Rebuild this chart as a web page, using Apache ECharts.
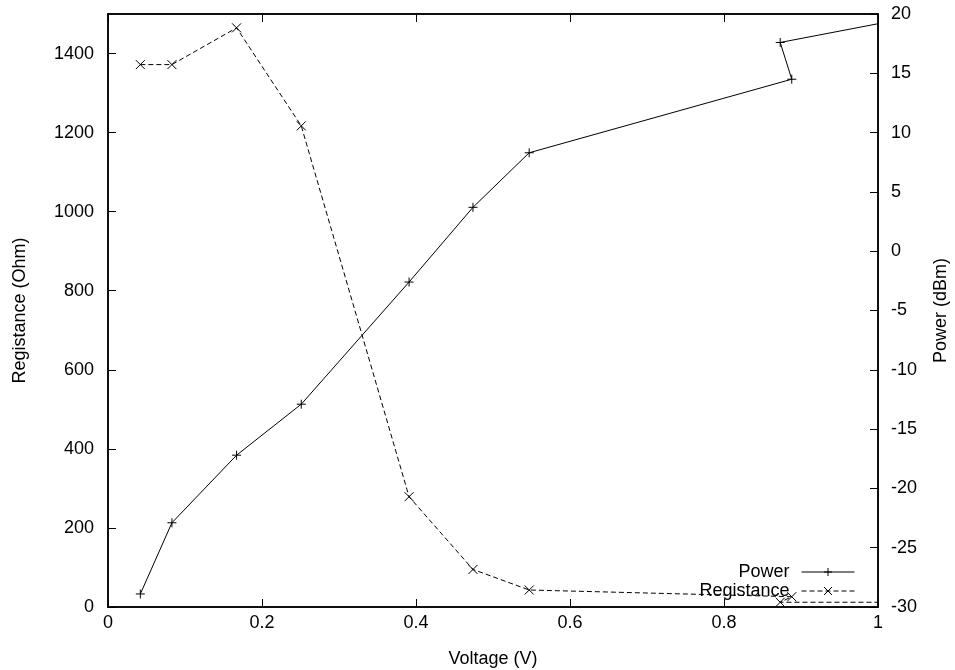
<!DOCTYPE html>
<html>
<head>
<meta charset="utf-8">
<script src="https://cdn.jsdelivr.net/npm/echarts@6/dist/echarts.min.js"></script>
<style>html,body{margin:0;padding:0;background:#fff}#c{width:955px;height:670px}</style>
</head>
<body>
<div id="c"></div>
<script>
// Data (order as plotted)
const voltage = [0.042, 0.083, 0.167, 0.251, 0.391, 0.474, 0.547, 0.888, 0.873, 1.05];
const power = [-28.9, -22.9, -17.2, -12.9, -2.6, 3.7, 8.3, 14.5, 17.6, 19.8];
const registance = [1372, 1372, 1465, 1217, 279, 95, 43, 26, 12, 12];
const seriesNames = ['Power', 'Registance'];
const xTicks = [0, 0.2, 0.4, 0.6, 0.8, 1];

const FONT = 'Liberation Sans, Arial, sans-serif';
const FS = 18;
const plusPath = 'path://M0,5L10,5M5,0L5,10';
const crossPath = 'path://M0,0L10,10M10,0L0,10';

function pairs(xs, ys) { return xs.map((x, i) => [x, ys[i]]); }
function plain(v) { return String(Math.round(v * 1000) / 1000); }

const chart = echarts.init(document.getElementById('c'), null, {renderer: 'canvas'});
const axisLine = {show: true, onZero: false, lineStyle: {color: '#000', width: 1.5}};
const axisTick = {show: true, inside: true, length: 8, lineStyle: {color: '#000', width: 1}};
const labelBase = {color: '#000', fontFamily: FONT, fontSize: FS, formatter: plain};
const nameStyle = {color: '#000', fontFamily: FONT, fontSize: FS};
chart.setOption({
  animation: false,
  backgroundColor: '#fff',
  grid: {left: 108, right: 77, top: 14, bottom: 63, show: true, borderColor: '#000', borderWidth: 1.5,
         backgroundColor: 'transparent', outerBoundsMode: 'none', containLabel: false},
  legend: {
    data: seriesNames,
    orient: 'vertical',
    align: 'right',
    right: 95,
    top: 558,
    itemWidth: 53,
    itemHeight: 10,
    itemGap: 1,
    textStyle: {color: '#000', fontFamily: FONT, fontSize: FS, lineHeight: 17, padding: [0, 7, 0, 0]},
    lineStyle: {width: 1},
    itemStyle: {borderWidth: 1, color: 'transparent', borderColor: '#000'},
    inactiveColor: '#000'
  },
  xAxis: [
    {
      type: 'value', min: xTicks[0], max: xTicks[xTicks.length - 1], interval: 0.2,
      name: 'Voltage (V)', nameLocation: 'middle', nameGap: 43, nameTextStyle: nameStyle,
      axisLine: axisLine, axisTick: axisTick, splitLine: {show: false},
      axisLabel: Object.assign({}, labelBase, {margin: 7})
    },
    {
      type: 'value', position: 'top', min: 0, max: 1, interval: 0.2,
      axisLine: axisLine, axisTick: axisTick, splitLine: {show: false},
      axisLabel: {show: false}
    }
  ],
  yAxis: [
    {
      type: 'value', min: 0, max: 1500, interval: 200, position: 'left',
      name: 'Registance (Ohm)', nameLocation: 'middle', nameGap: 79, nameRotate: 90, nameTextStyle: nameStyle,
      axisLine: axisLine, axisTick: axisTick, splitLine: {show: false},
      axisLabel: Object.assign({}, labelBase, {margin: 14, showMaxLabel: false})
    },
    {
      type: 'value', min: -30, max: 20, interval: 5, position: 'right',
      name: 'Power (dBm)', nameLocation: 'middle', nameGap: 54, nameRotate: 90, nameTextStyle: nameStyle,
      axisLine: axisLine, axisTick: axisTick, splitLine: {show: false},
      axisLabel: Object.assign({}, labelBase, {margin: 13})
    }
  ],
  series: [
    {
      name: seriesNames[0], type: 'line', xAxisIndex: 0, yAxisIndex: 1,
      data: pairs(voltage, power), clip: true,
      symbol: plusPath, symbolSize: 9, showSymbol: true,
      lineStyle: {color: '#000', width: 1, type: 'solid'},
      itemStyle: {color: 'transparent', borderColor: '#000', borderWidth: 1}
    },
    {
      name: seriesNames[1], type: 'line', xAxisIndex: 0, yAxisIndex: 0,
      data: pairs(voltage, registance), clip: true,
      symbol: crossPath, symbolSize: 9, showSymbol: true,
      lineStyle: {color: '#000', width: 1, type: [5, 3]},
      itemStyle: {color: 'transparent', borderColor: '#000', borderWidth: 1}
    }
  ]
});
</script>
</body>
</html>
